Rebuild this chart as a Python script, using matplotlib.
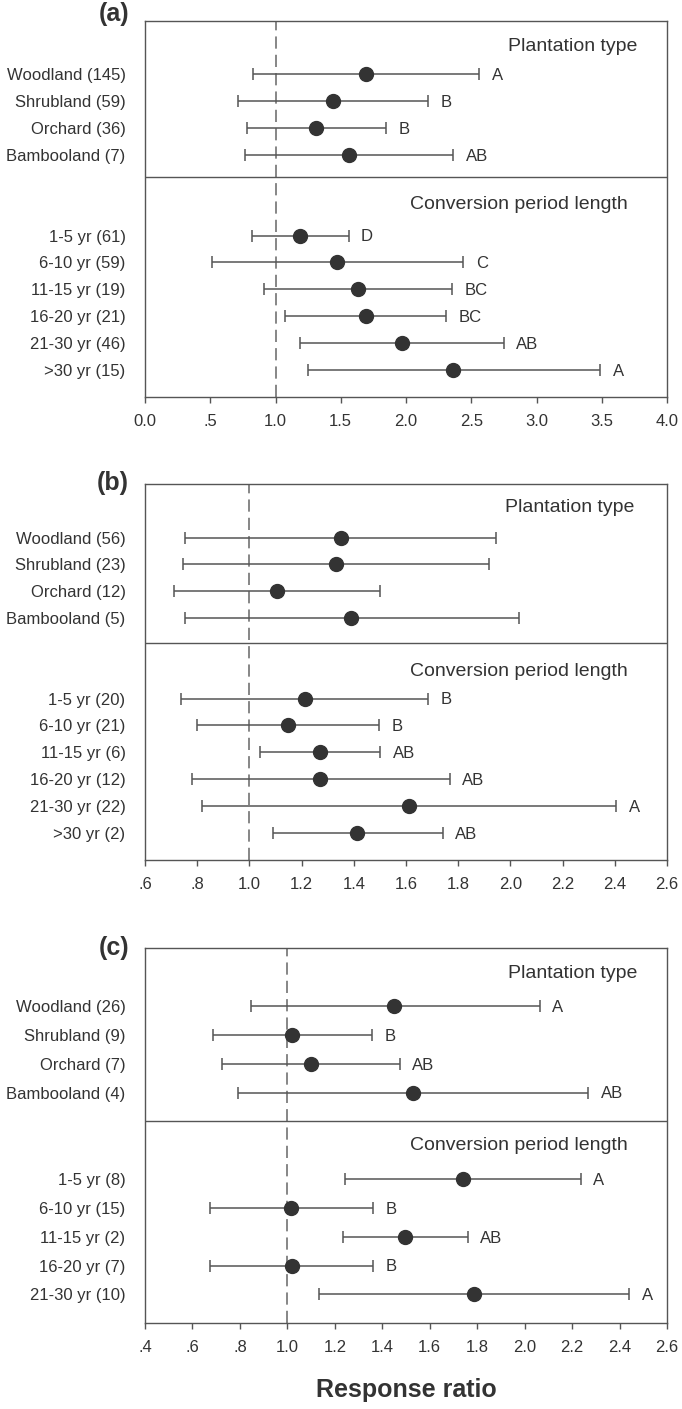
import matplotlib
matplotlib.use('Agg')
import matplotlib.pyplot as plt

plt.rcParams['font.family'] = ['Liberation Sans', 'DejaVu Sans']

# ---------------- data ----------------
panel_names = ['(a)', '(b)', '(c)']

plant_labels_a = ['Woodland (145)', 'Shrubland (59)', 'Orchard (36)', 'Bambooland (7)']
plant_mean_a = [1.69, 1.44, 1.31, 1.56]
plant_low_a = [0.825, 0.715, 0.785, 0.765]
plant_high_a = [2.56, 2.17, 1.845, 2.36]
plant_sig_a = ['A', 'B', 'B', 'AB']
period_labels_a = ['1-5 yr (61)', '6-10 yr (59)', '11-15 yr (19)', '16-20 yr (21)',
                   '21-30 yr (46)', '>30 yr (15)']
period_mean_a = [1.19, 1.47, 1.63, 1.69, 1.97, 2.36]
period_low_a = [0.82, 0.51, 0.91, 1.07, 1.19, 1.25]
period_high_a = [1.56, 2.44, 2.35, 2.31, 2.75, 3.49]
period_sig_a = ['D', 'C', 'BC', 'BC', 'AB', 'A']

plant_labels_b = ['Woodland (56)', 'Shrubland (23)', 'Orchard (12)', 'Bambooland (5)']
plant_mean_b = [1.35, 1.33, 1.106, 1.39]
plant_low_b = [0.754, 0.744, 0.712, 0.752]
plant_high_b = [1.945, 1.918, 1.501, 2.032]
plant_sig_b = ['', '', '', '']
period_labels_b = ['1-5 yr (20)', '6-10 yr (21)', '11-15 yr (6)', '16-20 yr (12)',
                   '21-30 yr (22)', '>30 yr (2)']
period_mean_b = [1.213, 1.146, 1.27, 1.272, 1.611, 1.414]
period_low_b = [0.737, 0.799, 1.039, 0.779, 0.817, 1.091]
period_high_b = [1.686, 1.497, 1.501, 1.768, 2.405, 1.74]
period_sig_b = ['B', 'B', 'AB', 'AB', 'A', 'AB']

plant_labels_c = ['Woodland (26)', 'Shrubland (9)', 'Orchard (7)', 'Bambooland (4)']
plant_mean_c = [1.451, 1.019, 1.098, 1.53]
plant_low_c = [0.845, 0.685, 0.725, 0.793]
plant_high_c = [2.063, 1.356, 1.473, 2.269]
plant_sig_c = ['A', 'B', 'AB', 'AB']
period_labels_c = ['1-5 yr (8)', '6-10 yr (15)', '11-15 yr (2)', '16-20 yr (7)', '21-30 yr (10)']
period_mean_c = [1.742, 1.014, 1.497, 1.018, 1.786]
period_low_c = [1.245, 0.672, 1.236, 0.674, 1.135]
period_high_c = [2.236, 1.363, 1.76, 1.361, 2.44]
period_sig_c = ['A', 'B', 'AB', 'B', 'A']

xticks_a = [0.0, 0.5, 1.0, 1.5, 2.0, 2.5, 3.0, 3.5, 4.0]
xticks_b = [0.6, 0.8, 1.0, 1.2, 1.4, 1.6, 1.8, 2.0, 2.2, 2.4, 2.6]
xticks_c = [0.4, 0.6, 0.8, 1.0, 1.2, 1.4, 1.6, 1.8, 2.0, 2.2, 2.4, 2.6]

header_plant = 'Plantation type'
header_period = 'Conversion period length'
xlabel = 'Response ratio'

panels = [
    dict(name=panel_names[0], pl=plant_labels_a, pm=plant_mean_a, plo=plant_low_a, phi=plant_high_a,
         ps=plant_sig_a, cl=period_labels_a, cm=period_mean_a, clo=period_low_a, chi=period_high_a,
         cs=period_sig_a, xt=xticks_a),
    dict(name=panel_names[1], pl=plant_labels_b, pm=plant_mean_b, plo=plant_low_b, phi=plant_high_b,
         ps=plant_sig_b, cl=period_labels_b, cm=period_mean_b, clo=period_low_b, chi=period_high_b,
         cs=period_sig_b, xt=xticks_b),
    dict(name=panel_names[2], pl=plant_labels_c, pm=plant_mean_c, plo=plant_low_c, phi=plant_high_c,
         ps=plant_sig_c, cl=period_labels_c, cm=period_mean_c, clo=period_low_c, chi=period_high_c,
         cs=period_sig_c, xt=xticks_c),
]

# ---------------- layout ----------------
W, H = 682, 1409
fig = plt.figure(figsize=(W / 100, H / 100), dpi=100)
ax_left, ax_right = 145, 667
ax_tops = [20.7, 484, 948.3]
ax_bottoms = [396.7, 859.5, 1323.3]
dividers = [5.83, 5.93, 6.0]
plant_head_y = [0.97, 0.88, 0.87]
period_head_y = [6.85, 6.98, 6.85]
label_dy = [6.5, 0.5, 0.5]

txt_col = '#333333'
line_col = '#555555'


def fmt(v):
    s = f'{v:.1f}'
    if s.startswith('0.') and s != '0.0':
        s = s[1:]
    return s


for i, p in enumerate(panels):
    top, bot = ax_tops[i], ax_bottoms[i]
    ax = fig.add_axes([ax_left / W, 1 - bot / H, (ax_right - ax_left) / W, (bot - top) / H])
    n_plant = len(p['pl'])
    n_per = len(p['cl'])
    y_plant = [2 + k for k in range(n_plant)]
    y_per = [8 + k for k in range(n_per)]
    ymax = 8 + n_per

    for ys, means, lows, highs, sigs in [(y_plant, p['pm'], p['plo'], p['phi'], p['ps']),
                                         (y_per, p['cm'], p['clo'], p['chi'], p['cs'])]:
        xerr = [[m - lo for m, lo in zip(means, lows)], [hi - m for m, hi in zip(means, highs)]]
        ax.errorbar(means, ys, xerr=xerr, fmt='o', color='#333333', ecolor=line_col,
                    elinewidth=1.1, capsize=4.5, capthick=1.1, markersize=10, zorder=3)
        for y, hi, s in zip(ys, highs, sigs):
            if s:
                ax.annotate(s, (hi, y), xytext=(9, -1), textcoords='offset points',
                            ha='left', va='center', fontsize=12, color=txt_col)

    ax.axvline(1.0, color='#666666', lw=1.1, dashes=(8, 4), zorder=1)
    ax.axhline(dividers[i], color=line_col, lw=1.0, zorder=1)

    ax.text(0.944 if i != 1 else 0.938, plant_head_y[i], header_plant, transform=ax.get_yaxis_transform(),
            ha='right', va='center', fontsize=14, color=txt_col)
    ax.text(0.924, period_head_y[i], header_period, transform=ax.get_yaxis_transform(),
            ha='right', va='center', fontsize=14, color=txt_col)

    ax.set_xlim(p['xt'][0], p['xt'][-1])
    ax.set_ylim(ymax, 0)
    ax.set_xticks(p['xt'])
    ax.set_xticklabels([fmt(v) for v in p['xt']])
    ax.set_yticks(y_plant + y_per)
    ax.set_yticklabels(p['pl'] + p['cl'])
    ax.tick_params(axis='y', length=0, pad=14, labelsize=12, labelcolor=txt_col)
    ax.tick_params(axis='x', direction='out', length=4.3, width=1.0, color=line_col,
                   pad=8, labelsize=12, labelcolor=txt_col)
    for sp in ax.spines.values():
        sp.set_color(line_col)
        sp.set_linewidth(1.0)

    fig.text(129 / W, 1 - (top - label_dy[i]) / H, p['name'], ha='right', va='center',
             fontsize=18, fontweight='bold', color=txt_col)

fig.text(406 / W, 1 - 1390 / H, xlabel, ha='center', va='center', fontsize=18,
         fontweight='bold', color=txt_col)

fig.savefig('out.png', dpi=100)
